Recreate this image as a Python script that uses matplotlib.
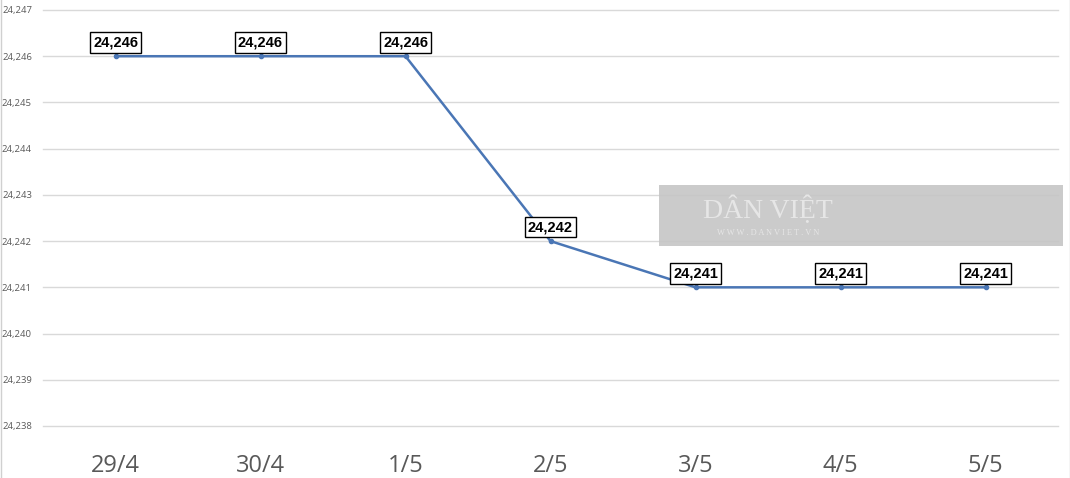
import matplotlib
matplotlib.use("Agg")
import matplotlib.pyplot as plt
from matplotlib.patches import Rectangle
from matplotlib.ticker import FuncFormatter

dates = ["29/4", "30/4", "1/5", "2/5", "3/5", "4/5", "5/5"]
rates = [24246, 24246, 24246, 24242, 24241, 24241, 24241]
y_ticks = list(range(24238, 24248))

W, H = 1070, 478
fig = plt.figure(figsize=(W / 100, H / 100), dpi=100)
fig.patch.set_facecolor("white")
ax = fig.add_axes([43 / W, 1 - 426 / H, (1058 - 43) / W, (426 - 10) / H])

x = list(range(len(dates)))
ax.plot(x, rates, color="#4a76b5", lw=1.8, marker="o", ms=3, zorder=3)
ax.set_xlim(-0.5, len(dates) - 0.5)
ax.set_ylim(24238, 24247)
ax.set_yticks(y_ticks)
ax.yaxis.set_major_formatter(FuncFormatter(lambda v, p: f"{int(v):,}"))
ax.set_xticks(x)
ax.set_xticklabels(dates)
ax.grid(axis="y", color="#d9d9d9", lw=1, clip_on=False)
ax.set_axisbelow(True)
for s in ax.spines.values():
    s.set_visible(False)
ax.tick_params(axis="y", length=0, labelsize=6.8, labelcolor="#595959", pad=8)
ax.tick_params(axis="x", length=0, labelsize=17, labelcolor="#595959", pad=20)
for lab in ax.get_yticklabels() + ax.get_xticklabels():
    lab.set_fontfamily("Open Sans")

for xi, v in zip(x, rates):
    ax.annotate(f"{v:,}", (xi, v), xytext=(0, 10), textcoords="offset points",
                ha="center", va="center", fontsize=10.5, fontweight="bold",
                fontfamily="Liberation Sans",
                bbox=dict(boxstyle="square,pad=0.22", fc="white", ec="black", lw=1),
                zorder=5)

# watermark
fig.patches.append(Rectangle((659 / W, 1 - 246 / H), (1063 - 659) / W, 61 / H,
                             transform=fig.transFigure, fc="#c6c6c6", ec="none",
                             alpha=0.9, zorder=10))
fig.text(768 / W, 1 - 210 / H, "DÂN VIỆT", fontsize=20, fontfamily="Liberation Serif",
         color="#e6e6e6", ha="center", va="center", zorder=11)
fig.text(768 / W, 1 - 233 / H, "W W W . D A N V I E T . V N", fontsize=6,
         fontfamily="Liberation Serif", color="#e6e6e6", ha="center", va="center", zorder=11)

# borders
fig.add_artist(plt.Line2D([0.5 / W, 0.5 / W], [0, 1], transform=fig.transFigure, color="#d0d0d0", lw=1))
fig.add_artist(plt.Line2D([1 - 0.5 / W, 1 - 0.5 / W], [0, 1], transform=fig.transFigure, color="#d0d0d0", lw=1))

fig.savefig("out.png", dpi=100)
